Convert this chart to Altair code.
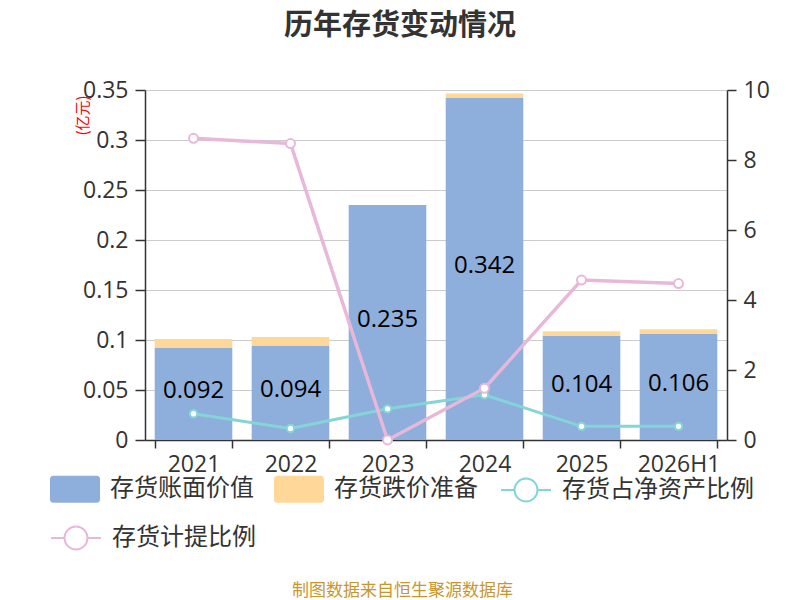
import altair as alt
import pandas as pd

years = ["2021", "2022", "2023", "2024", "2025", "2026H1"]
book_value = [0.092, 0.094, 0.235, 0.342, 0.104, 0.106]
impairment = [0.009, 0.009, 0.0, 0.0045, 0.0047, 0.0047]
value_labels = ["0.092", "0.094", "0.235", "0.342", "0.104", "0.106"]
inv_to_net_assets = [0.75, 0.33, 0.89, 1.29, 0.39, 0.39]
provision_ratio = [8.62, 8.47, 0.0, 1.48, 4.57, 4.47]

bar_series = ["存货账面价值", "存货跌价准备"]
bar_colors = ["#8eaedb", "#ffd899"]
teal_name = "存货占净资产比例"
pink_name = "存货计提比例"
teal_color = "#84d5d7"
pink_color = "#e8b8d9"

left_ticks = [0, 0.05, 0.1, 0.15, 0.2, 0.25, 0.3, 0.35]
right_ticks = [0, 2, 4, 6, 8, 10]

FONT = "Noto Sans CJK SC"
NUMFONT = "Open Sans, Noto Sans CJK SC"
TXT = "#333333"

bar_df = pd.DataFrame({
    "year": years * 2,
    "series": [bar_series[0]] * len(years) + [bar_series[1]] * len(years),
    "value": book_value + impairment,
    "ord": [0] * len(years) + [1] * len(years),
})
label_df = pd.DataFrame({"year": years, "book": book_value, "label": value_labels})
teal_df = pd.DataFrame({"year": years, "ratio": inv_to_net_assets, "series": [teal_name] * len(years)})
pink_df = pd.DataFrame({"year": years, "ratio": provision_ratio, "series": [pink_name] * len(years)})

RECT_PATH = ("M-0.86,-0.54 L0.86,-0.54 Q1,-0.54 1,-0.4 L1,0.4 Q1,0.54 0.86,0.54 "
             "L-0.86,0.54 Q-1,0.54 -1,0.4 L-1,-0.4 Q-1,-0.54 -0.86,-0.54 Z")
LINE_PATH = ("M-1,0 L-0.46,0 M0.46,0 L1,0 M0.46,0 A0.46,0.46 0 1 1 -0.46,0 "
             "A0.46,0.46 0 1 1 0.46,0 Z")

def legend(x, y, path, stroke_w, cols):
    return alt.Legend(
        orient="none", legendX=x, legendY=y, direction="horizontal", columns=cols,
        title=None, symbolType=path, symbolSize=2500, symbolStrokeWidth=stroke_w,
        symbolFillColor="white" if stroke_w else alt.Undefined,
        labelFontSize=24, labelFont=FONT, labelColor=TXT, labelOffset=10,
        columnPadding=20, padding=0, labelLimit=300,
    )

x_scale = alt.Scale(domain=years, paddingInner=0.2, paddingOuter=0.1)
x_axis = alt.Axis(
    title="制图数据来自恒生聚源数据库", titleX=257, titleY=150, titleAlign="center",
    titleBaseline="middle", titleColor="#c9962c", titleFontSize=17, titleFontWeight="normal",
    titleFont=FONT, labelAngle=0, labelFontSize=23, labelFont=NUMFONT, labelColor=TXT,
    labelPadding=5, tickBand="extent", tickSize=8, tickColor=TXT, tickWidth=1.5,
    domainColor=TXT, domainWidth=1.5, grid=False,
)
left_scale = alt.Scale(domain=[0, 0.35], nice=False, zero=True)
left_axis = alt.Axis(
    values=left_ticks, format="~g", title="(亿元)", titleColor="#ff0000", titleFontSize=15,
    titleFontWeight="normal", titleFont=FONT, titleAngle=270, titleX=-63, titleY=25,
    titleAlign="center", titleBaseline="middle",
    grid=True, gridColor="#cccccc", gridWidth=1.2, tickSize=10, tickColor=TXT, tickWidth=1.5,
    domainColor=TXT, domainWidth=1.5, labelFontSize=23, labelFont=NUMFONT, labelColor=TXT,
    labelPadding=7,
)
right_scale = alt.Scale(domain=[0, 10], nice=False)
right_axis = alt.Axis(
    orient="right", values=right_ticks, format="d", title="(%)", titleColor="#ff0000",
    titleFontSize=15, titleFontWeight="normal", titleFont=FONT, titleAngle=270,
    titleX=72, titleY=8, titleAlign="center", titleBaseline="middle",
    grid=False, tickSize=9, tickColor=TXT, tickWidth=1.5, domainColor=TXT, domainWidth=1.5,
    labelFontSize=23, labelFont=NUMFONT, labelColor=TXT, labelPadding=7,
)

X = alt.X("year:N", scale=x_scale, axis=x_axis, sort=years)

bars = alt.Chart(bar_df).mark_bar().encode(
    x=X,
    y=alt.Y("value:Q", stack="zero", scale=left_scale, axis=left_axis),
    fill=alt.Fill("series:N", scale=alt.Scale(domain=bar_series, range=bar_colors),
                  legend=legend(-95, 374, RECT_PATH, 0, 2)),
    order=alt.Order("ord:Q", sort="ascending"),
)
labels = alt.Chart(label_df).transform_calculate(mid="datum.book / 2").mark_text(
    fontSize=24, font=NUMFONT, color="#000000", baseline="middle", align="center", dy=-3
).encode(
    x=X,
    y=alt.Y("mid:Q", scale=left_scale, axis=left_axis),
    text="label:N",
)
left = alt.layer(bars, labels)

RY = alt.Y("ratio:Q", scale=right_scale, axis=right_axis)

teal_line = alt.Chart(teal_df).mark_line(strokeWidth=3).encode(
    x=X, y=RY,
    stroke=alt.Stroke("series:N", scale=alt.Scale(domain=[teal_name], range=[teal_color]),
                      legend=legend(355, 374, LINE_PATH, 2, 1)),
)
teal_pts = alt.Chart(teal_df).mark_point(
    filled=True, fill="white", stroke=teal_color, strokeWidth=2, size=55, opacity=1
).encode(x=X, y=RY)
pink_line = alt.Chart(pink_df).mark_line(strokeWidth=3.5).encode(
    x=X, y=RY,
    color=alt.Color("series:N", scale=alt.Scale(domain=[pink_name], range=[pink_color]),
                    legend=legend(-95, 422, LINE_PATH, 2, 1)),
)
pink_pts = alt.Chart(pink_df).mark_point(
    filled=True, fill="white", stroke=pink_color, strokeWidth=2, size=80, opacity=1
).encode(x=X, y=RY)
right = alt.layer(teal_line, teal_pts, pink_line, pink_pts)

chart = alt.layer(left, right).resolve_scale(y="independent").properties(
    width=582, height=350, background="white",
    title=alt.TitleParams("历年存货变动情况", fontSize=29, fontWeight="bold", color=TXT,
                          font=FONT, anchor="middle", frame="group", dx=-36, offset=38),
    padding={"left": 137, "top": 82, "right": 65, "bottom": 160},
    autosize=alt.AutoSizeParams(type="none"),
).configure_view(stroke=None)

chart.save("out.html", embed_options={"renderer": "svg", "actions": False})
